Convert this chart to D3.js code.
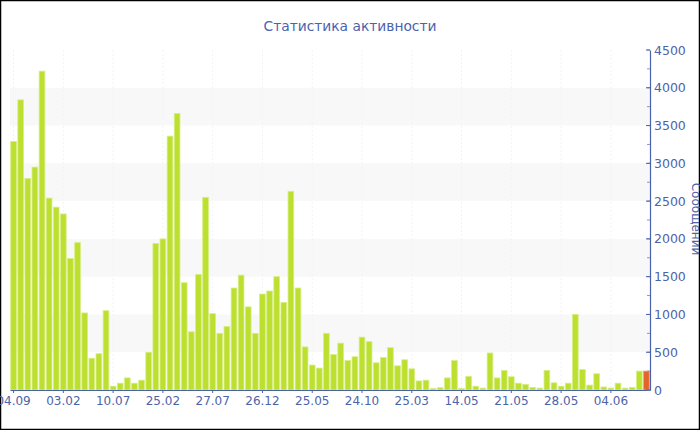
<!DOCTYPE html>
<html>
<head>
<meta charset="utf-8">
<script src="https://cdn.jsdelivr.net/npm/d3@7"></script>
<style>
  html, body { margin: 0; padding: 0; background: #fff; }
  svg { display: block; }
  text { font-family: "DejaVu Sans", Verdana, sans-serif; }
</style>
</head>
<body>
<svg id="chart" width="700" height="430"></svg>
<script>
// ---- data ----
const title = "Статистика активности";
const yTitle = "Сообщений";
const values = [
  3290, 3840, 2800, 2950, 4220, 2540, 2420, 2330, 1740, 1950,
  1020, 420, 480, 1050, 50, 90, 160, 90, 130, 500,
  1940, 2000, 3360, 3660, 1420, 770, 1530, 2550, 1010, 750,
  840, 1350, 1520, 1100, 750, 1270, 1310, 1500, 1160, 2630,
  1350, 570, 330, 290, 750, 470, 620, 390, 440, 700,
  640, 360, 430, 560, 320, 400, 280, 120, 130, 20,
  30, 160, 390, 20, 180, 50, 25, 490, 160, 260,
  175, 90, 75, 35, 25, 260, 95, 50, 90, 1000,
  270, 65, 215, 40, 25, 90, 25, 35, 250, 250
];
const tickLabels = ["04.09","03.02","10.07","25.02","27.07","26.12","25.05","24.10","25.03","14.05","21.05","28.05","04.06"];
const tickEvery = 7;
const currentIndex = 89; // highlighted (current) period
const yMax = 4500;
const yTicks = [0, 500, 1000, 1500, 2000, 2500, 3000, 3500, 4000, 4500];
const bandRanges = [[500, 1000], [1500, 2000], [2500, 3000], [3500, 4000]];

// ---- layout ----
const W = 700, H = 430;
const pLeft = 10, pRight = 650, pTop = 50, pBottom = 390;
const axisColor = "#4a62ad", textColor = "#4d63a9";

const svg = d3.select("#chart");
const idx = values.map((_, i) => i);

const x = d3.scaleBand().domain(idx).range([pLeft, pRight]).paddingInner(0.2).paddingOuter(0.1);
const y = d3.scaleLinear().domain([0, yMax]).range([pBottom, pTop]);

// border
svg.append("rect").attr("x", 0.5).attr("y", 0.5).attr("width", W - 1).attr("height", H - 1)
  .attr("fill", "#fff").attr("stroke", "#000").attr("stroke-width", 1.5);

// alternating bands
svg.append("g").selectAll("rect").data(bandRanges).join("rect")
  .attr("x", pLeft).attr("width", pRight - pLeft)
  .attr("y", d => y(d[1])).attr("height", d => y(d[0]) - y(d[1]))
  .attr("fill", "#f8f8f8");

// faint vertical grid
const tickIdx = tickLabels.map((_, i) => i * tickEvery);
svg.append("g").selectAll("line").data(tickIdx).join("line")
  .attr("x1", d => x(d) + x.bandwidth() / 2).attr("x2", d => x(d) + x.bandwidth() / 2)
  .attr("y1", pTop).attr("y2", pBottom)
  .attr("stroke", "#f3f3f3").attr("stroke-width", 1).attr("stroke-dasharray", "2,2");

// bars
svg.append("g").selectAll("rect").data(values).join("rect")
  .attr("x", (d, i) => x(i))
  .attr("width", x.bandwidth())
  .attr("y", d => y(d))
  .attr("height", d => pBottom - y(d))
  .attr("fill", (d, i) => i === currentIndex ? "#e4642e" : "#bde030")
  .attr("stroke", (d, i) => i === currentIndex ? "#f0a070" : "#d6ee84")
  .attr("stroke-width", 0.8);

// x axis
const xAxis = d3.axisBottom(x)
  .tickValues(tickIdx)
  .tickFormat(d => tickLabels[d / tickEvery])
  .tickSizeInner(3).tickSizeOuter(0).tickPadding(3);
const gx = svg.append("g").attr("transform", `translate(0,${pBottom})`).call(xAxis);
gx.select(".domain").attr("stroke", axisColor).attr("stroke-width", 1.2);
gx.selectAll(".tick line").attr("stroke", axisColor);
gx.selectAll("text").attr("fill", textColor).attr("font-size", 12)
  .attr("font-family", "DejaVu Sans, Verdana, sans-serif");

// y axis (right side, ticks to the left, labels to the right)
const yMinor = d3.range(0, yMax + 1, 250);
svg.append("g").selectAll("line").data(yMinor).join("line")
  .attr("x1", pRight - 3).attr("x2", pRight)
  .attr("y1", d => y(d)).attr("y2", d => y(d))
  .attr("stroke", "#8a98c8").attr("stroke-width", 1);
const yAxis = d3.axisRight(y).tickValues(yTicks).tickFormat(d3.format("d"))
  .tickSizeInner(0).tickSizeOuter(0).tickPadding(4);
const gy = svg.append("g").attr("transform", `translate(${pRight},0)`).call(yAxis);
gy.select(".domain").attr("stroke", axisColor).attr("stroke-width", 1.2);
gy.selectAll("text").attr("fill", textColor).attr("font-size", 12.5)
  .attr("font-family", "DejaVu Sans, Verdana, sans-serif");
svg.append("g").selectAll("line").data(yTicks).join("line")
  .attr("x1", pRight - 4).attr("x2", pRight)
  .attr("y1", d => y(d)).attr("y2", d => y(d))
  .attr("stroke", axisColor).attr("stroke-width", 1);

// y title (rotated)
svg.append("text")
  .attr("transform", `translate(692,219) rotate(90)`)
  .attr("text-anchor", "middle")
  .attr("fill", textColor).attr("font-size", 12)
  .text(yTitle);

// title
svg.append("text")
  .attr("x", 350).attr("y", 31)
  .attr("text-anchor", "middle")
  .attr("fill", "#4a62ad").attr("font-size", 13.8)
  .text(title);
</script>
</body>
</html>
